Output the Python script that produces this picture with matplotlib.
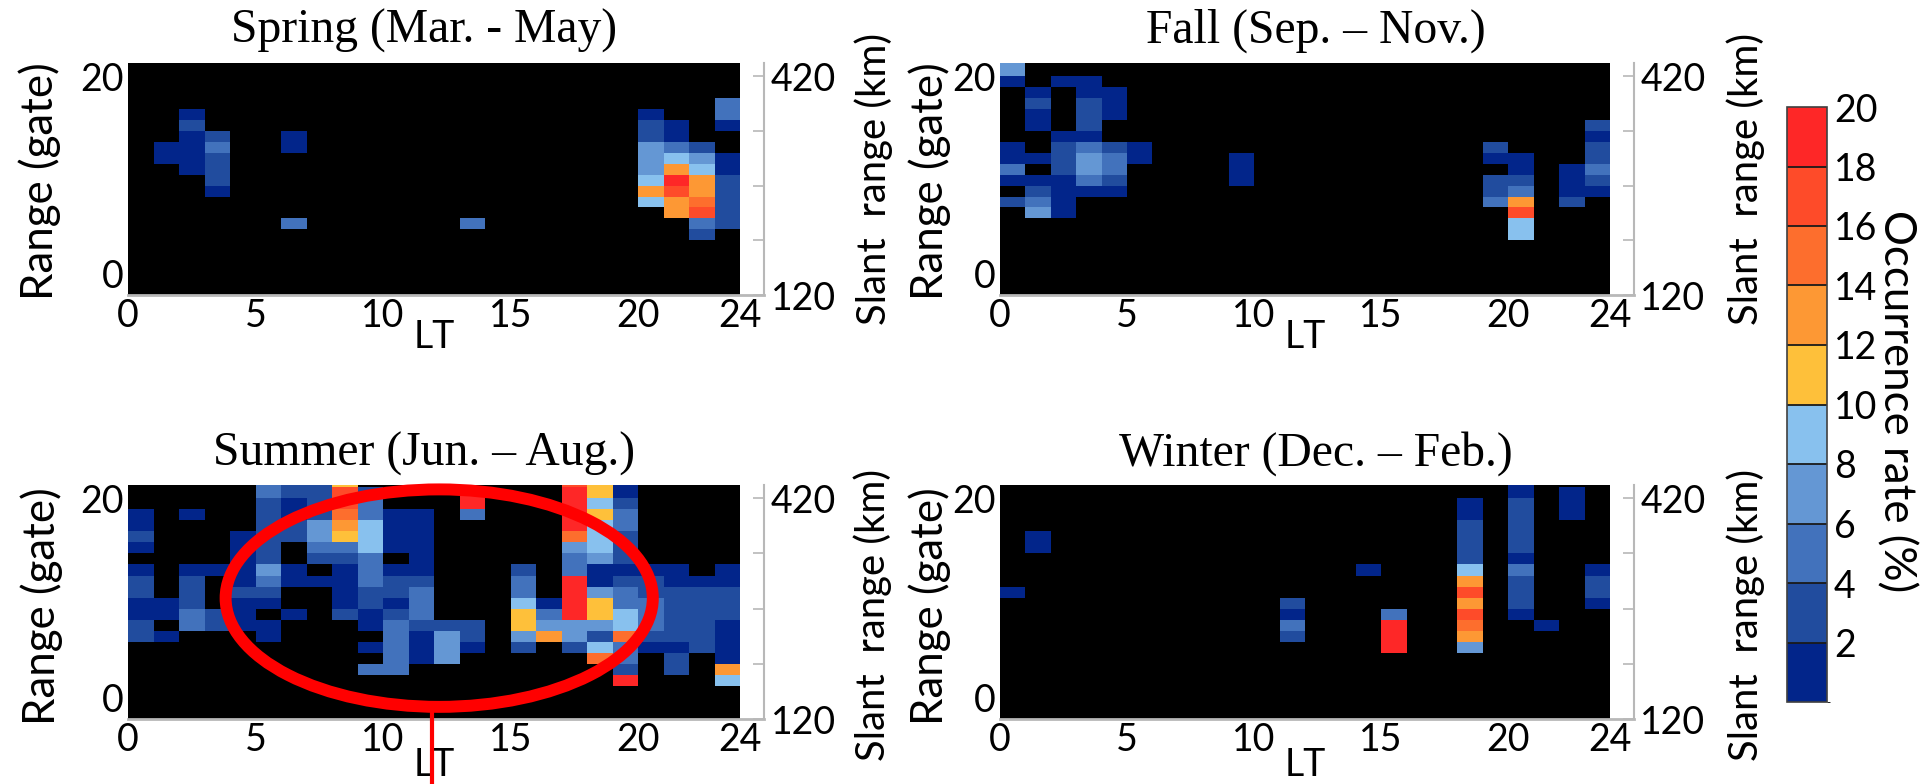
import numpy as np
import matplotlib
matplotlib.use("Agg")
import matplotlib.pyplot as plt
from matplotlib.colors import ListedColormap, BoundaryNorm
from matplotlib.patches import Ellipse

# ---- grid definition -------------------------------------------------------
hour_edges = np.arange(0, 25)          # 1-h LT bins, 0..24
gate_edges = np.arange(0, 23)          # range gates 0..22
gate_top = 21.2                        # visible top of the range axis
km_per_gate = 15
first_gate_km = 120

lt_ticks = [0, 5, 10, 15, 20, 24]
gate_ticks = [0, 20]
km_ticks = [120, 195, 270, 345, 420]
km_labels = ["120", "", "", "", "420"]

level_bounds = [0, 2, 4, 6, 8, 10, 12, 14, 16, 18, 20]
level_colors = ["#02258a", "#214c9e", "#4272bc", "#6497d4", "#88c1ee",
                "#fec03a", "#fd9834", "#fd6e2d", "#fe4b29", "#fe2727"]

# occurrence rate runs: (LT hour bin, first gate, rates going up in gate); 0 = no echo
spring_runs = [
    (1, 12, [1, 1]),
    (2, 11, [1, 1, 1, 1, 3, 1]),
    (3, 9, [1, 3, 3, 3, 5, 3]),
    (6, 6, [5]),
    (6, 13, [1, 1]),
    (13, 6, [5]),
    (20, 8, [9, 13, 9, 7, 7, 7, 3, 3, 1]),
    (21, 7, [13, 13, 17, 19, 13, 9, 5, 1, 1]),
    (22, 5, [3, 5, 17, 15, 13, 13, 9, 7, 3]),
    (23, 6, [3, 3, 3, 3, 3, 1, 1]),
    (23, 15, [1, 5, 5]),
]

fall_runs = [
    (0, 8, [3, 0, 1, 5, 1, 1]),
    (0, 19, [1, 7, 7]),
    (1, 7, [7, 5, 3, 1, 0, 1]),
    (1, 15, [1, 1, 3, 1]),
    (2, 7, [1, 1, 1, 1, 3, 3, 3, 1]),
    (2, 19, [1]),
    (3, 9, [1, 5, 7, 7, 5, 1, 3, 3, 3, 1, 1]),
    (4, 9, [1, 3, 5, 5, 3]),
    (4, 16, [1, 1, 1]),
    (5, 12, [1, 1]),
    (9, 10, [1, 1, 1]),
    (19, 8, [5, 3, 3, 0, 1, 3]),
    (20, 5, [9, 9, 17, 13, 5, 3, 1, 1]),
    (22, 8, [3, 1, 1, 1]),
    (23, 9, [1, 3, 5, 3, 3, 1, 3]),
]

summer_runs = [
    (0, 7, [3, 3, 1, 1, 3, 3, 1]),
    (0, 15, [1, 3, 1, 1]),
    (1, 7, [1]),
    (1, 9, [1, 1]),
    (2, 8, [5, 5, 3, 3, 3, 1]),
    (2, 18, [1]),
    (3, 8, [3, 3]),
    (3, 13, [1]),
    (4, 8, [1, 1, 1, 3, 1, 1, 1, 1, 1]),
    (5, 7, [1, 1, 0, 1, 3, 5, 7, 3, 3, 3, 3, 3, 3, 5, 5]),
    (6, 9, [1]),
    (6, 12, [1, 1]),
    (6, 16, [3, 3, 1, 1, 3, 3]),
    (7, 12, [1]),
    (7, 14, [3, 5, 7, 7, 3, 3, 3, 3]),
    (8, 9, [3, 1, 1, 1, 1, 3, 5, 11, 13, 15, 17, 17, 11]),
    (9, 4, [5]),
    (9, 6, [1]),
    (9, 8, [1, 1, 3, 3, 5, 5, 5, 9, 9, 9, 5, 5, 3]),
    (10, 4, [5, 5, 5, 5, 5, 3, 1, 3, 3, 1]),
    (10, 15, [1, 1, 1, 1]),
    (11, 5, [1, 1, 1, 3, 5, 5, 5, 3, 1, 1, 1, 1, 1, 1]),
    (12, 5, [7, 7, 7, 3]),
    (13, 6, [1, 3, 3]),
    (13, 18, [5, 19, 19]),
    (15, 6, [3, 7, 11, 11, 9, 5, 5, 3]),
    (16, 7, [13, 7, 5, 1]),
    (17, 6, [3, 7, 7, 19, 19, 19, 19, 5, 5, 7, 15, 19, 19, 19, 19, 17]),
    (18, 5, [15, 9, 3, 7, 11, 11, 7, 1, 1, 7, 9, 9, 9, 11, 9, 11, 11]),
    (19, 3, [19, 3, 5, 5, 15, 9, 9, 5, 5, 3, 1, 3, 3, 3, 5, 5, 3, 1, 1]),
    (20, 6, [1, 3, 5, 5, 5, 3, 3, 1]),
    (21, 4, [3, 3, 1, 3, 3, 3, 3, 3, 1, 1]),
    (22, 6, [3, 3, 3, 3, 3, 3, 1]),
    (23, 3, [9, 13, 1, 1, 1, 1, 3, 3, 3, 1, 1]),
]

winter_runs = [
    (0, 11, [1]),
    (1, 15, [1, 1]),
    (11, 7, [3, 5, 1, 3]),
    (14, 13, [1]),
    (15, 6, [19, 19, 19, 5]),
    (18, 6, [7, 13, 15, 17, 13, 17, 13, 9, 3, 3, 3, 3, 1, 1]),
    (20, 9, [1, 3, 3, 3, 5, 1, 3, 3, 3, 3, 3, 1, 1]),
    (21, 8, [1]),
    (22, 18, [1, 1, 1]),
    (23, 10, [1, 3, 3, 1]),
]

season_titles = ["Spring (Mar. - May)", "Fall (Sep. \u2013 Nov.)",
                 "Summer (Jun. \u2013 Aug.)", "Winter (Dec. \u2013 Feb.)"]
season_runs = [spring_runs, fall_runs, summer_runs, winter_runs]

# highlighted daytime region in summer
highlight_center = (12.2, 10.95)
highlight_size = (16.75, 19.7)
highlight_stem_lt = 11.9

# ---- styling ---------------------------------------------------------------
plt.rcParams["font.family"] = ["Lato", "DejaVu Sans"]
tick_fs = 27
range_label_fs = 31.5
slant_label_fs = 28.8
title_fs = 34.3
title_font = "Liberation Serif"
grey = "#b8b8b8"

cmap = ListedColormap(level_colors)
cmap.set_bad("black")
norm = BoundaryNorm(level_bounds, cmap.N)


def to_grid(runs):
    grid = np.full((len(gate_edges) - 1, len(hour_edges) - 1), np.nan)
    for hr, g0, vals in runs:
        for k, v in enumerate(vals):
            if v > 0:
                grid[g0 + k, hr] = v
    return np.ma.masked_invalid(grid)


fig = plt.figure(figsize=(19.2, 7.84), dpi=100)

# panel rectangles in figure fractions
panel_rects = [
    [0.0667, 0.6237, 0.3188, 0.2959],
    [0.5208, 0.6237, 0.3177, 0.2959],
    [0.0667, 0.0829, 0.3188, 0.2985],
    [0.5208, 0.0829, 0.3177, 0.2985],
]
left_label_xy = [(-0.144, 0.49), (-0.115, 0.49), (-0.141, 0.483), (-0.115, 0.483)]
right_label_xy = [(1.218, 0.5), (1.223, 0.5), (1.216, 0.444), (1.223, 0.444)]
lt_label_y = [-0.18, -0.18, -0.195, -0.195]
title_x = [0.484, 0.518, 0.484, 0.518]
title_pad = [15, 15, 14, 14]

axes = []
mesh = None
for i, (rect, title, runs) in enumerate(zip(panel_rects, season_titles, season_runs)):
    ax = fig.add_axes(rect)
    ax.set_facecolor("black")
    mesh = ax.pcolormesh(hour_edges, gate_edges, to_grid(runs), cmap=cmap, norm=norm)
    ax.set_xlim(0, 24)
    ax.set_ylim(0, gate_top)
    ax.set_xticks(lt_ticks)
    ax.set_xticklabels([str(t) for t in lt_ticks])
    ax.set_yticks(gate_ticks)
    ax.set_yticklabels([str(t) for t in gate_ticks])
    ax.get_yticklabels()[0].set_va("bottom")
    ax.tick_params(axis="both", length=0, labelsize=tick_fs)
    ax.tick_params(axis="x", pad=2)
    ax.tick_params(axis="y", pad=3)
    for s in ax.spines.values():
        s.set_visible(False)

    ax.set_title(title, fontfamily=title_font, fontsize=title_fs,
                 pad=title_pad[i], x=title_x[i])

    ax.set_xlabel("LT", fontsize=tick_fs)
    ax.xaxis.set_label_coords(0.5, lt_label_y[i])
    ax.xaxis.label.set_va("center")

    ax.set_ylabel("Range (gate)", fontsize=range_label_fs)
    ax.yaxis.set_label_coords(*left_label_xy[i])
    ax.yaxis.label.set_va("center")

    # slant-range axis on an offset spine
    ax2 = ax.twinx()
    ax2.set_ylim(first_gate_km, first_gate_km + km_per_gate * gate_top)
    ax2.set_yticks(km_ticks)
    ax2.set_yticklabels(km_labels)
    ax2.get_yticklabels()[0].set_va("bottom")
    for side in ("top", "left", "bottom"):
        ax2.spines[side].set_visible(False)
    ax2.spines["right"].set_position(("outward", 17))
    ax2.spines["right"].set_color(grey)
    ax2.spines["right"].set_linewidth(1.5)
    ax2.tick_params(axis="y", direction="in", length=8, width=1.2, color=grey,
                    labelsize=tick_fs, pad=5)
    ax2.set_ylabel("Slant  range (km)", fontsize=slant_label_fs, rotation=90)
    ax2.yaxis.set_label_coords(*right_label_xy[i])
    ax2.yaxis.label.set_va("center")

    # base line running out to the slant-range spine
    ax.plot([0, 1 + 24 / (rect[2] * 1920)], [0, 0], transform=ax.transAxes,
            color=grey, lw=2, clip_on=False, zorder=6)
    axes.append(ax)

# red highlight over the summer daytime echoes
ax_summer = axes[2]
ax_summer.add_patch(Ellipse(highlight_center, highlight_size[0], highlight_size[1],
                            fill=False, ec="#ff0000", lw=8.6, clip_on=False, zorder=8))
stem_top = highlight_center[1] - highlight_size[1] / 2
ax_summer.plot([highlight_stem_lt, highlight_stem_lt], [stem_top, -6.2],
               color="#ff0000", lw=3, clip_on=False, zorder=8)

# colour bar
cax = fig.add_axes([1787 / 1920, 1 - 702 / 784, 40 / 1920, 595 / 784])
cb = fig.colorbar(mesh, cax=cax, ticks=level_bounds[1:], drawedges=True)
cb.ax.tick_params(length=0, labelsize=tick_fs, pad=5)
cb.outline.set_edgecolor("#404040")
cb.outline.set_linewidth(1.2)
cb.dividers.set_color("#1a1a1a")
cb.dividers.set_linewidth(1.3)
cb.ax.set_ylabel("Occurrence rate (%)", fontsize=31.5, rotation=270)
cb.ax.yaxis.set_label_coords(2.72, 0.505)
cb.ax.yaxis.label.set_va("center")
cb.ax.yaxis.label.set_ha("center")

fig.savefig("out.png", dpi=100, facecolor="white")
